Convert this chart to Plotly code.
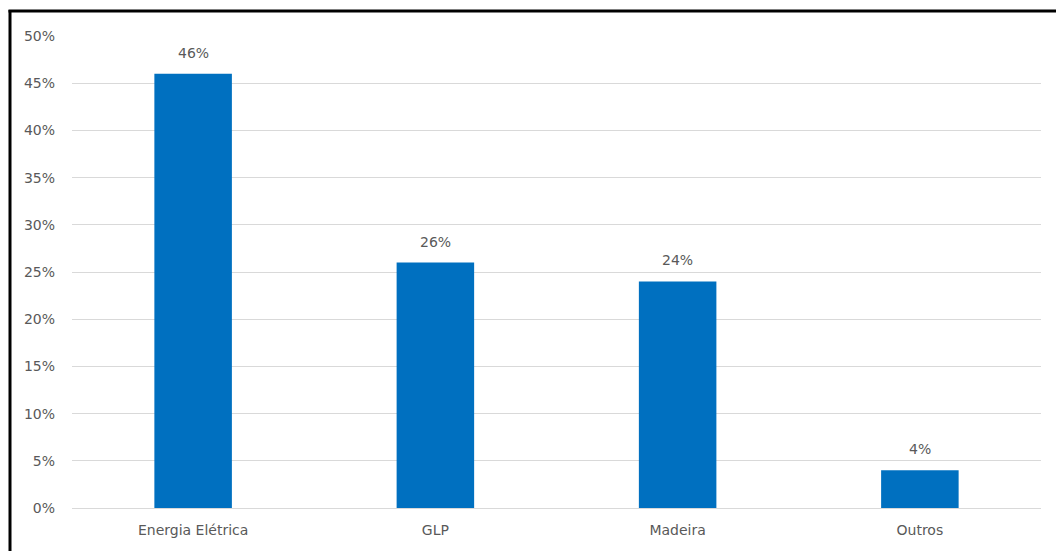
import plotly.graph_objects as go

categories = ["Energia Elétrica", "GLP", "Madeira", "Outros"]
values = [0.46, 0.26, 0.24, 0.04]
labels = ["46%", "26%", "24%", "4%"]
tick_vals = [0, 0.05, 0.10, 0.15, 0.20, 0.25, 0.30, 0.35, 0.40, 0.45, 0.50]
tick_text = ["0%", "5%", "10%", "15%", "20%", "25%", "30%", "35%", "40%", "45%", "50%"]

font_family = "DejaVu Sans"
text_color = "#595959"
fsize = 14

fig = go.Figure()
fig.add_trace(go.Bar(
    x=categories, y=values,
    marker=dict(color="#0070C0", line=dict(width=0)),
    hoverinfo="skip",
))

for c, v, t in zip(categories, values, labels):
    fig.add_annotation(x=c, y=v, text=t, showarrow=False, yanchor="bottom",
                       yshift=11, font=dict(family=font_family, size=fsize, color=text_color))

# outer black frame (left and top visible)
W, H = 1056, 551
l, r, t, b = 72, 15, 36, 43
pw, ph = W - l - r, H - t - b
def px(x): return (x - l) / pw
def py(y): return 1 - (y - t) / ph
fig.add_shape(type="line", xref="paper", yref="paper", x0=px(10), x1=px(10), y0=py(10), y1=py(560),
              line=dict(color="black", width=3))
fig.add_shape(type="line", xref="paper", yref="paper", x0=px(8.5), x1=px(1060), y0=py(11), y1=py(11),
              line=dict(color="black", width=3))

fig.update_layout(
    width=W, height=H,
    margin=dict(l=l, r=r, t=t, b=b),
    paper_bgcolor="white", plot_bgcolor="white",
    bargap=0.68,
    showlegend=False,
    font=dict(family=font_family, size=fsize, color=text_color),
    xaxis=dict(showline=False, showgrid=False, ticks="", ticklabelstandoff=12,
               tickfont=dict(size=fsize, color=text_color)),
    yaxis=dict(range=[0, 0.5], tickvals=tick_vals, ticktext=tick_text, showgrid=True,
               gridcolor="#d9d9d9", gridwidth=1, zeroline=True, zerolinecolor="#d9d9d9",
               zerolinewidth=1, showline=False, ticks="", ticklabelstandoff=16,
               tickfont=dict(size=fsize, color=text_color)),
)

fig.write_html("out.html")
